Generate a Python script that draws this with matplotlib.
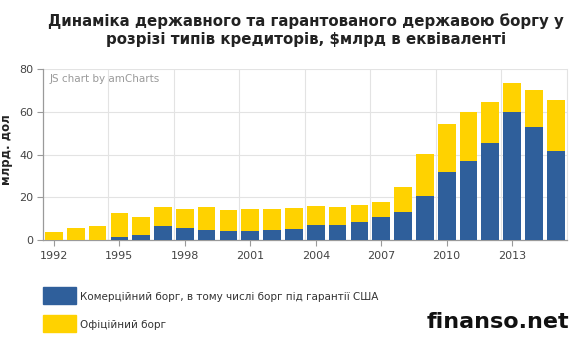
import matplotlib
matplotlib.use("Agg")
import matplotlib.pyplot as plt
import numpy as np

years = list(range(1992, 2016))
commercial = [0, 0, 0, 1.4, 2.3, 6.6, 5.5, 4.5, 4.1, 4.1, 4.5, 5.2,
              7.0, 7.0, 8.3, 10.8, 13.1, 20.8, 31.7, 37.0, 45.6, 59.8, 53.1, 41.9]
total = [3.6, 5.5, 6.6, 12.7, 10.8, 15.6, 14.5, 15.6, 14.1, 14.5, 14.5, 15.0,
         16.1, 15.6, 16.6, 18.0, 25.0, 40.2, 54.5, 59.8, 64.8, 73.6, 70.3, 65.5]
official = [t - c for t, c in zip(total, commercial)]
tick_years = [1992, 1995, 1998, 2001, 2004, 2007, 2010, 2013]
y_ticks = [0, 20, 40, 60, 80]

title = "Динаміка державного та гарантованого державою боргу у\nрозрізі типів кредиторів, $млрд в еквіваленті"
legend_labels = ["Комерційний борг, в тому числі борг під гарантії США", "Офіційний борг"]

BLUE = "#2F5F9B"
YELLOW = "#FFD200"

fig = plt.figure(figsize=(5.84, 3.5), dpi=100)
ax = fig.add_axes([43 / 584, 1 - 240 / 350, (566.7 - 43) / 584, (240 - 69.3) / 350])

ax.bar(years, commercial, width=0.81, color=BLUE, zorder=3)
ax.bar(years, official, width=0.81, bottom=commercial, color=YELLOW, zorder=3)

ax.set_xlim(1991.5, 2015.5)
ax.set_ylim(0, 80)

# grid: horizontal at value ticks, vertical at category boundaries every 3 years
for v in y_ticks:
    ax.axhline(v, color="#E3E3E3", lw=0.8, zorder=1)
for b in np.arange(1994.5, 2015, 3):
    ax.axvline(b, color="#E3E3E3", lw=0.8, zorder=1)

ax.spines["top"].set_visible(False)
ax.spines["right"].set_color("#E3E3E3")
ax.spines["left"].set_color("#9A9A9A")
ax.spines["bottom"].set_color("#9A9A9A")
ax.spines["left"].set_linewidth(0.9)
ax.spines["bottom"].set_linewidth(0.9)

ax.set_xticks(tick_years)
ax.set_xticklabels([str(y) for y in tick_years])
ax.set_yticks(y_ticks)
ax.tick_params(axis="both", colors="#9A9A9A", labelcolor="#444444", labelsize=8,
               length=4, width=0.8)
ax.tick_params(axis="x", pad=4)
ax.tick_params(axis="y", pad=3)

ax.text(0.012, 0.945, "JS chart by amCharts", transform=ax.transAxes,
        fontsize=7.5, color="#9A9A9A", va="center", ha="left")

fig.text(7 / 584, 1 - 150 / 350, "млрд. дол", rotation=90, fontsize=8.5,
         fontweight="bold", color="#222222", ha="center", va="center")

fig.text(306 / 584, 1 - 30 / 350, title, fontsize=10.8, fontweight="bold",
         color="#222222", ha="center", va="center", linespacing=1.2)

# legend
for i, (lab, col) in enumerate(zip(legend_labels, [BLUE, YELLOW])):
    top = 287 + i * 28.3
    fig.patches.append(plt.Rectangle((42.7 / 584, 1 - (top + 17) / 350), 33.3 / 584, 17 / 350,
                                     transform=fig.transFigure, color=col))
    fig.text(80 / 584, 1 - (top + 9.5) / 350, lab, fontsize=7.5, color="#333333",
             ha="left", va="center")

fig.text(498 / 584, 1 - 322 / 350, "finanso.net", fontsize=16, fontweight="bold",
         color="#111111", ha="center", va="center")

fig.savefig("out.png", dpi=100)
